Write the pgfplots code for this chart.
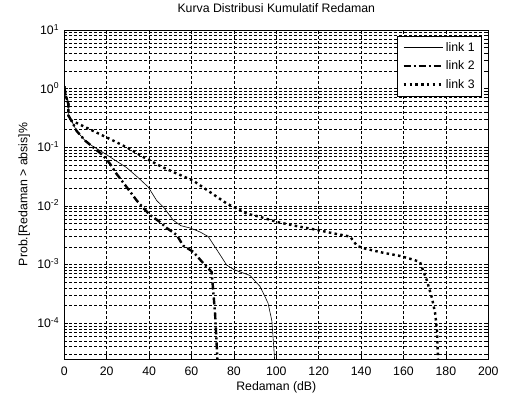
\documentclass[border=0pt]{standalone}
\usepackage{fontspec}
\setmainfont{Liberation Sans}
\usepackage{pgfplots}
\pgfplotsset{compat=1.18}
\newcommand{\fs}{\fontsize{12.3}{14}\selectfont}
\begin{document}
\begin{tikzpicture}
\useasboundingbox (-64.3pt,-37pt) rectangle (444.7pt,359pt);
\begin{axis}[
  at={(0,0)}, anchor=south west,
  scale only axis, width=424pt, height=329pt,
  xmin=0, xmax=200, ymode=log, ymin=2.45e-5, ymax=10,
  xtick={0,20,...,200},
  ytick={1e-4,1e-3,1e-2,1e-1,1,10},
  yticklabels={10\textsuperscript{-4},10\textsuperscript{-3},10\textsuperscript{-2},10\textsuperscript{-1},10\textsuperscript{0},10\textsuperscript{1}},
  minor ytick={3e-5,4e-5,5e-5,6e-5,7e-5,8e-5,9e-5,
    2e-4,3e-4,4e-4,5e-4,6e-4,7e-4,8e-4,9e-4,
    2e-3,3e-3,4e-3,5e-3,6e-3,7e-3,8e-3,9e-3,
    2e-2,3e-2,4e-2,5e-2,6e-2,7e-2,8e-2,9e-2,
    2e-1,3e-1,4e-1,5e-1,6e-1,7e-1,8e-1,9e-1,
    2,3,4,5,6,7,8,9},
  minor xtick={},
  xmajorgrids, ymajorgrids, yminorgrids,
  major grid style={dash pattern=on 3pt off 2pt, black, line width=0.45pt},
  minor grid style={dash pattern=on 3pt off 2pt, black, line width=0.45pt},
  tick align=inside, tick pos=both,
  major tick length=4pt, minor tick length=2.5pt,
  every tick/.style={black, line width=0.5pt},
  axis line style={black, line width=0.8pt},
  /pgf/number format/assume math mode=true,
  tick label style={font=\fs},
  xticklabel style={anchor=base, inner sep=0pt, yshift=-16.8pt},
  yticklabel style={anchor=base east, inner sep=0pt, xshift=-5pt, yshift=-4.4pt},
  title={Kurva Distribusi Kumulatif Redaman},
  title style={font=\fs, at={(0.5,1)}, anchor=base, yshift=11pt},
  xlabel={Redaman (dB)},
  xlabel style={font=\fs, at={(0.5,0)}, anchor=base, yshift=-31.5pt},
  ylabel={Prob.[Redaman > absis]\%},
  ylabel style={font=\fs, at={(0,0.5)}, anchor=base, yshift=36.8pt},
  legend style={font=\fs, at={(0.985,0.983)}, anchor=north east, draw=black, line width=0.6pt, fill=white,
    inner xsep=5pt, inner ysep=4.5pt, row sep=4pt,
    /tikz/every even column/.append style={column sep=0pt}},
  legend cell align=left,
  legend image code/.code={\draw[#1] (0pt,0pt) -- (39pt,0pt);},
]
\addplot[black, line width=0.6pt] coordinates {
(0,1.1) (0.5,0.8) (1.9,0.55) (1.9,0.35) (3.5,0.28) (5.8,0.19) (9.8,0.13)
(12.9,0.107) (18.4,0.081) (24,0.06) (29.4,0.045) (35,0.03) (39.6,0.021)
(43.6,0.0123) (46.7,0.0096) (51.4,0.0057) (55,0.0046) (59.3,0.0042)
(64,0.0036) (67.9,0.0030) (71.9,0.0018) (76.6,0.00098) (80,0.00082)
(87.6,0.00065) (92.4,0.00042) (96.1,0.00022) (97.9,0.00011)
(98.9,0.000035) (99.2,0.000024)
};
\addlegendentry{link 1}
\addplot[black, line width=2.4pt, dash pattern=on 7pt off 3pt on 2pt off 3pt] coordinates {
(0,1.1) (0.5,0.8) (1.9,0.55) (1.9,0.35) (3.5,0.28) (5.8,0.19) (9.8,0.13)
(12.9,0.105) (18.4,0.072) (21.6,0.052) (24.7,0.035) (29.4,0.021)
(34.2,0.0123) (37,0.0095) (40.4,0.0070) (45.2,0.0053) (48.3,0.0042)
(53,0.0032) (56.1,0.0021) (60.8,0.00165) (65.6,0.00105) (69.5,0.00075)
(70.2,0.00037) (71.1,0.00015) (72,0.000035) (72.2,0.000024)
};
\addlegendentry{link 2}
\addplot[black, line width=2.4pt, dash pattern=on 2.5pt off 3.3pt] coordinates {
(0,1.1) (0.5,0.8) (1.9,0.55) (1.9,0.35) (3.5,0.28) (5.8,0.26) (13.6,0.19)
(21.6,0.138) (29.4,0.1) (37.3,0.068) (45.2,0.048) (52,0.037) (60.8,0.027)
(70,0.016) (76.6,0.011) (80,0.0095) (86,0.0074) (92.4,0.0065)
(100.5,0.0053) (110,0.0045) (119.2,0.0039) (127,0.0034) (134.8,0.0030)
(138,0.0021) (141,0.0019) (150,0.0016) (158.4,0.0014) (165,0.0012)
(167.8,0.0011) (169.2,0.0008) (171,0.00054) (173.4,0.00027)
(174.9,0.00015) (175.8,0.000076) (176.3,0.000024)
};
\addlegendentry{link 3}
\end{axis}
\end{tikzpicture}
\end{document}
